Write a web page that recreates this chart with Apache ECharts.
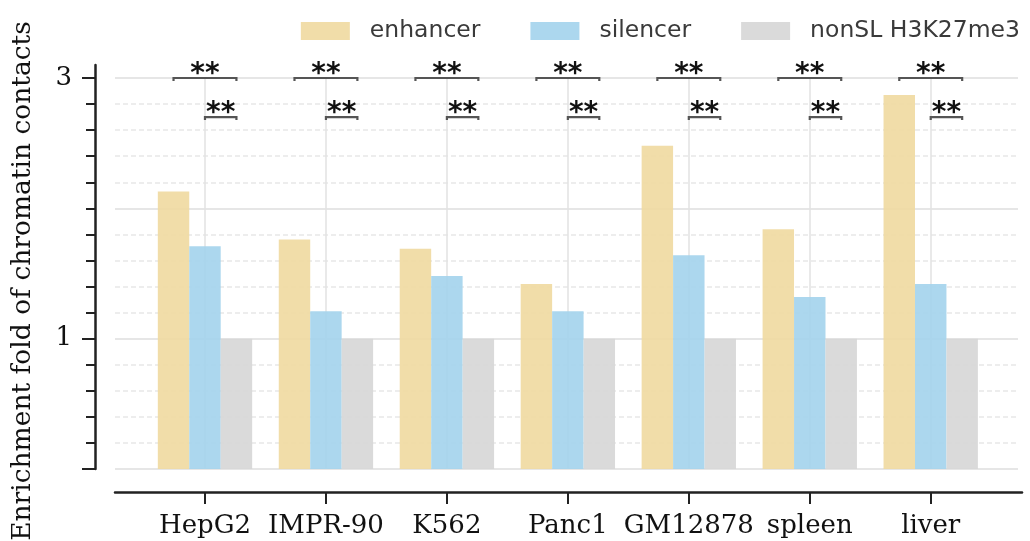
<!DOCTYPE html>
<html>
<head>
<meta charset="utf-8">
<script src="https://cdn.jsdelivr.net/npm/echarts@6/dist/echarts.min.js"></script>
<style>html,body{margin:0;padding:0;background:#fff}#c{width:1030px;height:541px}</style>
</head>
<body>
<div id="c"></div>
<script>
const categories = ['HepG2', 'IMPR-90', 'K562', 'Panc1', 'GM12878', 'spleen', 'liver'];
const seriesNames = ['enhancer', 'silencer', 'nonSL H3K27me3'];
const enhancer = [2.13, 1.76, 1.69, 1.42, 2.48, 1.84, 2.87];
const silencer = [1.71, 1.21, 1.48, 1.21, 1.64, 1.32, 1.42];
const nonSL = [1, 1, 1, 1, 1, 1, 1];
const yLabelValues = [1, 3];
const yMajorTicks = [0, 1, 3];
const yMinorTicks = [0.2, 0.4, 0.6, 0.8, 1.2, 1.4, 1.6, 1.8, 2.0, 2.2, 2.4, 2.6, 2.8];
const xTickIndices = [0, 1, 2, 3, 4, 5, 6];
// significance brackets: [category index, from series, to series, y level]
const brackets = [
  [0, 0, 2, 3.0], [0, 1, 2, 2.7],
  [1, 0, 2, 3.0], [1, 1, 2, 2.7],
  [2, 0, 2, 3.0], [2, 1, 2, 2.7],
  [3, 0, 2, 3.0], [3, 1, 2, 2.7],
  [4, 0, 2, 3.0], [4, 1, 2, 2.7],
  [5, 0, 2, 3.0], [5, 1, 2, 2.7],
  [6, 0, 2, 3.0], [6, 1, 2, 2.7]
];
const bracketLabels = ['**', '**', '**', '**', '**', '**', '**', '**', '**', '**', '**', '**', '**', '**'];

const colors = ['#EFD9A0', '#A3D3EC', '#D6D6D6'];
const CAT_GAP = 0.22;
const serif = 'DejaVu Serif';

// layout constants
const W = 1030;
const barGrid = { left: 144.5, right: 38.8 };
const axisGrid = { left: 115, right: 8 };
const band = (W - barGrid.right - barGrid.left) / categories.length;
const xMin = (axisGrid.left - barGrid.left) / band - 0.5;
const xMax = (W - axisGrid.right - barGrid.left) / band - 0.5;

const chart = echarts.init(document.getElementById('c'));
chart.setOption({
  animation: false,
  backgroundColor: '#ffffff',
  legend: {
    data: seriesNames,
    right: 5,
    top: 14,
    itemWidth: 49,
    itemHeight: 18,
    itemGap: 50,
    icon: 'rect',
    textStyle: { fontFamily: 'DejaVu Sans', fontSize: 23.5, color: '#3a3a3a', padding: [0, 0, 0, 15] }
  },
  grid: [
    { left: barGrid.left, right: barGrid.right, top: 78, bottom: 72, outerBoundsMode: 'none', containLabel: false },
    { left: 115, right: 12, top: 78, bottom: 72, outerBoundsMode: 'none', containLabel: false },
    { left: axisGrid.left, right: axisGrid.right, top: 65, bottom: 72, outerBoundsMode: 'none', containLabel: false }
  ],
  xAxis: [
    {
      gridIndex: 0, type: 'category', data: categories,
      axisLine: { show: false, onZero: false },
      axisTick: { show: false },
      axisLabel: { show: false },
      splitLine: { show: true, interval: 0, alignWithLabel: true, lineStyle: { color: '#e2e2e2', width: 1.5 } }
    },
    { gridIndex: 1, type: 'value', min: 0, max: 1, show: false },
    {
      gridIndex: 2, type: 'value', min: xMin, max: xMax, offset: 23,
      axisLine: { show: true, onZero: false, lineStyle: { color: '#222', width: 2.5 } },
      axisTick: { show: true, customValues: xTickIndices, length: 12, lineStyle: { color: '#222', width: 2 } },
      axisLabel: {
        show: true, customValues: xTickIndices, margin: 21, fontFamily: serif, fontSize: 26, color: '#111',
        formatter: v => categories[Math.round(v)]
      },
      splitLine: { show: false }
    }
  ],
  yAxis: [
    { gridIndex: 0, type: 'value', min: 0, max: 3, show: false, splitLine: { show: false } },
    {
      gridIndex: 1, type: 'value', min: 0, max: 3, interval: 1,
      axisLine: { show: false }, axisTick: { show: false }, axisLabel: { show: false },
      splitLine: { show: true, lineStyle: { color: '#e6e6e6', width: 2 } },
      minorTick: { show: false, splitNumber: 5 },
      minorSplitLine: { show: true, lineStyle: { color: '#e8e8e8', width: 1.5, type: [5, 3] } }
    },
    {
      gridIndex: 2, type: 'value', min: 0, max: 3.1, position: 'left', offset: 20,
      name: 'Enrichment fold of chromatin contacts', nameLocation: 'middle', nameGap: 58,
      nameTextStyle: { fontFamily: serif, fontSize: 26.5, color: '#111', padding: [0, 28, 0, 0] },
      axisLine: { show: true, onZero: false, lineStyle: { color: '#222', width: 2.5 } },
      axisTick: { show: true, customValues: yMajorTicks, length: 13, lineStyle: { color: '#222', width: 2 } },
      axisLabel: { show: true, customValues: yLabelValues, margin: 23, fontFamily: serif, fontSize: 26, color: '#111' },
      splitLine: { show: false }
    },
    {
      gridIndex: 2, type: 'value', min: 0, max: 3.1, position: 'left', offset: 20,
      axisLine: { show: false, onZero: false },
      axisTick: { show: true, customValues: yMinorTicks, length: 9, lineStyle: { color: '#222', width: 2 } },
      axisLabel: { show: false }, splitLine: { show: false }
    }
  ],
  series: [
    { name: seriesNames[0], type: 'bar', xAxisIndex: 0, yAxisIndex: 0, data: enhancer, barGap: 0, barCategoryGap: (CAT_GAP * 100) + '%', itemStyle: { color: colors[0], opacity: 0.9 } },
    { name: seriesNames[1], type: 'bar', xAxisIndex: 0, yAxisIndex: 0, data: silencer, barGap: 0, barCategoryGap: (CAT_GAP * 100) + '%', itemStyle: { color: colors[1], opacity: 0.9 } },
    { name: seriesNames[2], type: 'bar', xAxisIndex: 0, yAxisIndex: 0, data: nonSL, barGap: 0, barCategoryGap: (CAT_GAP * 100) + '%', itemStyle: { color: colors[2], opacity: 0.9 } },
    {
      type: 'custom', xAxisIndex: 0, yAxisIndex: 0, data: brackets, encode: { x: 0, y: 3 }, z: 5,
      renderItem: function (params, api) {
        const cat = api.value(0), from = api.value(1), to = api.value(2), level = api.value(3);
        const c = api.coord([cat, level]);
        const bw = api.size([1, 0])[0];
        const group = bw * (1 - CAT_GAP);
        const barW = group / 3;
        const xOf = s => c[0] - group / 2 + barW * (s + 0.5);
        const x1 = xOf(from), x2 = xOf(to), y = c[1];
        return {
          type: 'group',
          children: [
            { type: 'polyline', shape: { points: [[x1, y + 3], [x1, y], [x2, y], [x2, y + 3]] }, style: { stroke: '#555', lineWidth: 2.2, fill: null } },
            { type: 'text', style: { text: bracketLabels[params.dataIndex], x: (x1 + x2) / 2, y: y - 3, align: 'center', verticalAlign: 'middle', font: 'bold 28px "DejaVu Sans"', fill: '#111' } }
          ]
        };
      }
    }
  ]
});
</script>
</body>
</html>
